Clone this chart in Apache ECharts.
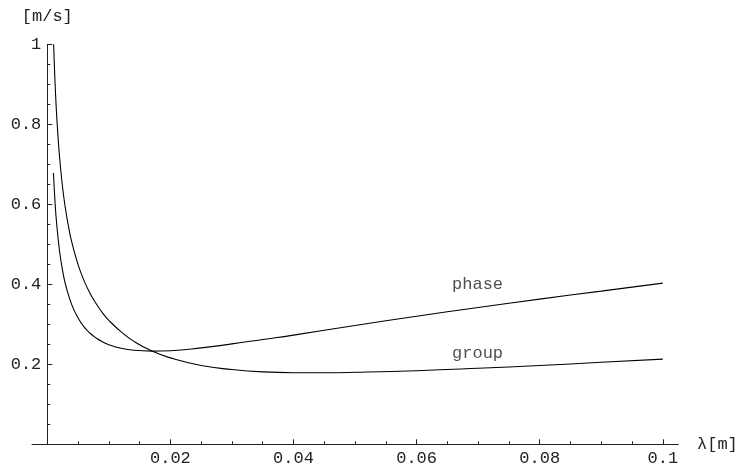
<!DOCTYPE html>
<html>
<head>
<meta charset="utf-8">
<script src="https://cdn.jsdelivr.net/npm/echarts@6/dist/echarts.min.js"></script>
<style>
html,body{margin:0;padding:0;background:#fff;}
#chart{width:741px;height:466px;}
</style>
</head>
<body>
<div id="chart"></div>
<script>
// wavelength samples (m) and velocities (m/s)
var lambdaPhase = [0.001, 0.0012, 0.0015, 0.002, 0.0025, 0.003, 0.004, 0.005, 0.006, 0.007, 0.008, 0.009, 0.01, 0.012, 0.014, 0.017, 0.02, 0.025, 0.03, 0.035, 0.04, 0.05, 0.06, 0.07, 0.08, 0.09, 0.1];
var phaseVel    = [0.678, 0.620, 0.555, 0.482, 0.433, 0.397, 0.348, 0.316, 0.293, 0.277, 0.265, 0.256, 0.249, 0.240, 0.235, 0.233, 0.234, 0.241, 0.251, 0.262, 0.273, 0.297, 0.320, 0.342, 0.363, 0.383, 0.403];

var lambdaGroup = [0.00103, 0.0011, 0.0012, 0.0013, 0.0015, 0.0018, 0.002, 0.0025, 0.003, 0.0035, 0.004, 0.005, 0.006, 0.007, 0.008, 0.009, 0.01, 0.012, 0.014, 0.017, 0.02, 0.025, 0.03, 0.035, 0.04, 0.045, 0.05, 0.06, 0.07, 0.08, 0.09, 0.1];
var groupVel    = [1.0, 0.968, 0.927, 0.890, 0.828, 0.756, 0.717, 0.640, 0.584, 0.540, 0.504, 0.449, 0.408, 0.376, 0.350, 0.328, 0.310, 0.281, 0.258, 0.233, 0.216, 0.197, 0.187, 0.181, 0.179, 0.179, 0.180, 0.184, 0.190, 0.197, 0.205, 0.213];

var xMajorTicks = [0.02, 0.04, 0.06, 0.08, 0.1];
var xMinorTicks = [0.005, 0.01, 0.015, 0.025, 0.03, 0.035, 0.045, 0.05, 0.055, 0.065, 0.07, 0.075, 0.085, 0.09, 0.095];

var curveLabels = ['phase', 'group'];
var curveLabelX = [0.0699, 0.0699];
var curveLabelY = [0.400, 0.228];

var FONT = '"Liberation Mono", "DejaVu Sans Mono", monospace';
var AXIS_COLOR = '#222';
var TEXT_COLOR = '#222';

var chart = echarts.init(document.getElementById('chart'), null, {renderer: 'canvas'});

var xMax = 0.10247;

chart.setOption({
  animation: false,
  backgroundColor: '#fff',
  grid: [
    {left: 47.3, right: 63, top: 44.3, bottom: 21.7, containLabel: false, outerBoundsMode: 'none'},
    {left: 32, right: 63, top: 44.3, bottom: 21.7, containLabel: false, outerBoundsMode: 'none'}
  ],
  xAxis: [{
    gridIndex: 0, type: 'value', min: 0, max: xMax, position: 'bottom',
    name: 'λ[m]', nameLocation: 'end', nameGap: 19,
    nameTextStyle: {fontFamily: FONT, fontSize: 17, color: TEXT_COLOR, verticalAlign: 'middle'},
    axisLine: {show: true, onZero: false, lineStyle: {color: AXIS_COLOR, width: 1}},
    axisTick: {show: true, inside: true, length: 5, customValues: xMajorTicks, lineStyle: {color: AXIS_COLOR}},
    axisLabel: {show: true, customValues: xMajorTicks, margin: 6, fontFamily: FONT, fontSize: 17, color: TEXT_COLOR,
      formatter: function (v) { return String(+v.toFixed(4)); }},
    splitLine: {show: false}
  }, {
    gridIndex: 0, type: 'value', min: 0, max: xMax, position: 'bottom', offset: 0,
    axisLine: {show: false, onZero: false},
    axisTick: {show: true, inside: true, length: 3, customValues: xMinorTicks, lineStyle: {color: AXIS_COLOR}},
    axisLabel: {show: false},
    splitLine: {show: false}
  }, {
    gridIndex: 1, type: 'value', min: 0, max: 1, position: 'bottom',
    axisLine: {show: true, onZero: false, lineStyle: {color: AXIS_COLOR, width: 1}},
    axisTick: {show: false}, axisLabel: {show: false}, splitLine: {show: false}
  }],
  yAxis: [{
    gridIndex: 0, type: 'value', min: 0, max: 1, interval: 0.2, position: 'left',
    name: '[m/s]', nameLocation: 'end', nameGap: 19,
    nameTextStyle: {fontFamily: FONT, fontSize: 17, color: TEXT_COLOR, align: 'center'},
    axisLine: {show: true, onZero: false, lineStyle: {color: AXIS_COLOR, width: 1}},
    axisTick: {show: true, inside: true, length: 5, lineStyle: {color: AXIS_COLOR}},
    minorTick: {show: true, splitNumber: 4, length: 3, lineStyle: {color: AXIS_COLOR}},
    axisLabel: {show: true, margin: 6, fontFamily: FONT, fontSize: 17, color: TEXT_COLOR,
      formatter: function (v) { return v === 0 ? '' : String(+v.toFixed(2)); }},
    splitLine: {show: false}
  }, {
    gridIndex: 1, type: 'value', min: 0, max: 1, show: false
  }],
  series: [{
    name: 'phase', type: 'line', xAxisIndex: 0, yAxisIndex: 0,
    data: lambdaPhase.map(function (x, i) { return [x, phaseVel[i]]; }),
    showSymbol: false, smooth: 0.5,
    lineStyle: {color: '#000', width: 1.1}
  }, {
    name: 'group', type: 'line', xAxisIndex: 0, yAxisIndex: 0,
    data: lambdaGroup.map(function (x, i) { return [x, groupVel[i]]; }),
    showSymbol: false, smooth: 0.5,
    lineStyle: {color: '#000', width: 1.1}
  }, {
    name: 'labels', type: 'scatter', xAxisIndex: 0, yAxisIndex: 0,
    symbolSize: 0,
    data: curveLabels.map(function (n, i) { return {name: n, value: [curveLabelX[i], curveLabelY[i]]}; }),
    label: {show: true, position: 'inside', formatter: '{b}', fontFamily: FONT, fontSize: 17, color: TEXT_COLOR},
    silent: true
  }]
});
</script>
</body>
</html>
